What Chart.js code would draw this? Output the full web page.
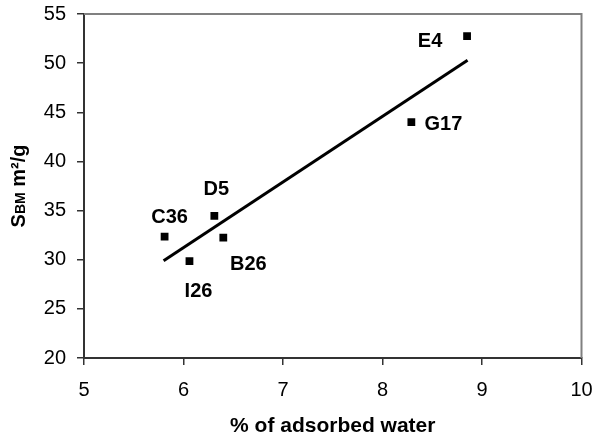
<!DOCTYPE html>
<html>
<head>
<meta charset="utf-8">
<script src="https://cdn.jsdelivr.net/npm/chart.js@4"></script>
<style>
html,body{margin:0;padding:0;background:#fff;}
#wrap{width:597px;height:442px;position:relative;}
</style>
</head>
<body>
<div id="wrap"><canvas id="c" width="597" height="442"></canvas></div>
<script>
// ---- data ----
const sampleNames = ['C36', 'I26', 'D5', 'B26', 'G17', 'E4'];
const adsorbedWater = [5.81, 6.06, 6.31, 6.40, 8.29, 8.85];
const sbm = [32.35, 29.85, 34.45, 32.25, 44.0, 52.75];
const trendX = [5.80, 8.855];
const trendY = [29.9, 50.3];
const xTicks = [5, 6, 7, 8, 9, 10];
const yTicks = [20, 25, 30, 35, 40, 45, 50, 55];

// label placement (pixels, relative to marker centre)
const labelOffsets = {
  C36: [5, -20], I26: [9, 29], D5: [2, -27], B26: [25, 26], G17: [32, 1], E4: [-37, 4]
};

const FONT = '"Liberation Sans", Arial, sans-serif';

const pointLabels = {
  id: 'pointLabels',
  afterDatasetsDraw(chart) {
    const ctx = chart.ctx;
    const meta = chart.getDatasetMeta(1);
    ctx.save();
    ctx.font = 'bold 20px ' + FONT;
    ctx.fillStyle = '#000';
    ctx.textAlign = 'center';
    ctx.textBaseline = 'middle';
    meta.data.forEach((el, i) => {
      const name = sampleNames[i];
      const off = labelOffsets[name] || [0, 0];
      ctx.fillText(name, el.x + off[0], el.y + off[1] + 1);
    });
    ctx.restore();
  }
};

const frame = {
  id: 'frame',
  beforeDatasetsDraw(chart) {
    const a = chart.chartArea;
    const ctx = chart.ctx;
    ctx.save();
    ctx.strokeStyle = '#808080';
    ctx.lineWidth = 2;
    ctx.beginPath();
    ctx.moveTo(a.left, a.top);
    ctx.lineTo(a.right, a.top);
    ctx.lineTo(a.right, a.bottom);
    ctx.stroke();
    ctx.restore();
  }
};

const yTitle = {
  id: 'yTitle',
  afterDraw(chart) {
    const ctx = chart.ctx;
    ctx.save();
    ctx.translate(19, 186);
    ctx.rotate(-Math.PI / 2);
    ctx.fillStyle = '#000';
    ctx.textBaseline = 'middle';
    const parts = [
      ['S', 'bold 20px ' + FONT, 0],
      ['BM', 'bold 14px ' + FONT, 2],
      [' m\u00B2/g', 'bold 20px ' + FONT, 0]
    ];
    let total = 0;
    parts.forEach(p => { ctx.font = p[1]; total += ctx.measureText(p[0]).width; });
    let x = -total / 2;
    ctx.textAlign = 'left';
    parts.forEach(p => {
      ctx.font = p[1];
      ctx.fillText(p[0], x, p[2]);
      x += ctx.measureText(p[0]).width;
    });
    ctx.restore();
  }
};

new Chart(document.getElementById('c'), {
  type: 'scatter',
  data: {
    datasets: [
      {
        label: 'trend',
        data: trendX.map((x, i) => ({ x: x, y: trendY[i] })),
        showLine: true,
        borderColor: '#000',
        borderWidth: 3,
        pointRadius: 0,
        fill: false
      },
      {
        label: 'samples',
        data: adsorbedWater.map((x, i) => ({ x: x, y: sbm[i] })),
        pointStyle: 'rect',
        pointRadius: 5.5,
        backgroundColor: '#000',
        borderColor: '#000',
        borderWidth: 0
      }
    ]
  },
  options: {
    responsive: false,
    animation: false,
    layout: { padding: { top: 14, right: 15.5, left: 0, bottom: 0 } },
    plugins: {
      legend: { display: false },
      tooltip: { enabled: false }
    },
    scales: {
      x: {
        type: 'linear',
        min: 5, max: 10,
        afterBuildTicks(s) { s.ticks = xTicks.map(v => ({ value: v })); },
        afterFit(s) { s.height = 84; s.paddingLeft = 0; s.paddingRight = 0; },
        grid: { drawOnChartArea: false, drawTicks: true, tickLength: 7, color: '#333', lineWidth: 1.5 },
        border: { display: true, color: '#333', width: 2 },
        ticks: { color: '#000', font: { family: FONT, size: 20 }, padding: 13, maxRotation: 0 },
        title: {
          display: true,
          text: '% of adsorbed water',
          color: '#000',
          font: { family: FONT, size: 21, weight: 'bold' },
          padding: { top: 4, bottom: 3 }
        }
      },
      y: {
        type: 'linear',
        min: 20, max: 55,
        afterBuildTicks(s) { s.ticks = yTicks.map(v => ({ value: v })); },
        afterFit(s) { s.width = 84; s.paddingTop = 0; s.paddingBottom = 0; },
        grid: { drawOnChartArea: false, drawTicks: true, tickLength: 7, color: '#333', lineWidth: 1.5 },
        border: { display: true, color: '#333', width: 2 },
        ticks: { color: '#000', font: { family: FONT, size: 20 }, padding: 11 }
      }
    }
  },
  plugins: [frame, pointLabels, yTitle]
});
</script>
</body>
</html>
